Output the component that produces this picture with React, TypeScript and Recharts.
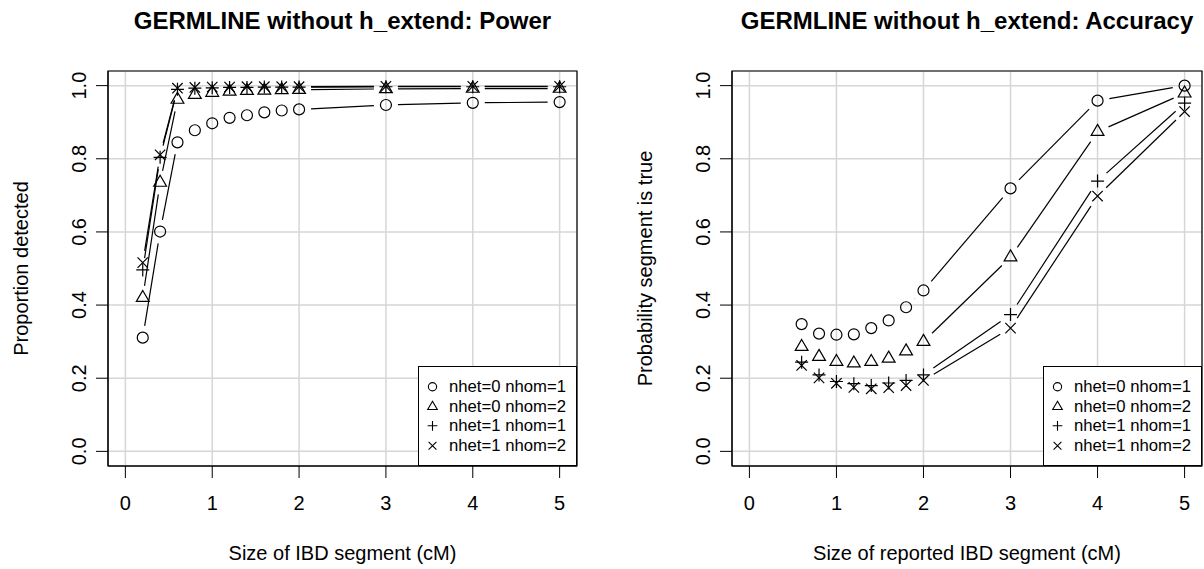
import {
  CartesianGrid,
  Legend,
  Line,
  LineChart,
  ReferenceArea,
  XAxis,
  YAxis,
} from "recharts";

// sizes of IBD segment (cM)
const powerSizes = [0.2, 0.4, 0.6, 0.8, 1, 1.2, 1.4, 1.6, 1.8, 2, 3, 4, 5];
const powerHet0Hom1 = [0.311, 0.601, 0.845, 0.878, 0.897, 0.912, 0.919, 0.927, 0.932, 0.935, 0.947, 0.953, 0.955];
const powerHet0Hom2 = [0.42, 0.735, 0.962, 0.975, 0.981, 0.984, 0.986, 0.987, 0.988, 0.989, 0.991, 0.992, 0.992];
const powerHet1Hom1 = [0.496, 0.804, 0.99, 0.993, 0.994, 0.995, 0.995, 0.996, 0.996, 0.996, 0.997, 0.997, 0.997];
const powerHet1Hom2 = [0.516, 0.811, 0.993, 0.995, 0.996, 0.996, 0.997, 0.997, 0.997, 0.997, 0.998, 0.998, 0.998];

// sizes of reported IBD segment (cM)
const accuracySizes = [0.6, 0.8, 1, 1.2, 1.4, 1.6, 1.8, 2, 3, 4, 5];
const accHet0Hom1 = [0.348, 0.322, 0.319, 0.32, 0.337, 0.358, 0.394, 0.44, 0.719, 0.959, 1.0];
const accHet0Hom2 = [0.286, 0.259, 0.245, 0.241, 0.245, 0.254, 0.274, 0.3, 0.531, 0.874, 0.979];
const accHet1Hom1 = [0.244, 0.209, 0.191, 0.185, 0.18, 0.187, 0.194, 0.209, 0.374, 0.739, 0.952];
const accHet1Hom2 = [0.235, 0.201, 0.186, 0.175, 0.171, 0.174, 0.18, 0.194, 0.337, 0.698, 0.929];

const seriesLabels = ["nhet=0 nhom=1", "nhet=0 nhom=2", "nhet=1 nhom=1", "nhet=1 nhom=2"];
const seriesSymbols = ["circle", "triangle", "plus", "cross"];
const seriesKeys = ["s0", "s1", "s2", "s3"];

const xTicks = [0, 1, 2, 3, 4, 5];
const yTicks = [0, 0.2, 0.4, 0.6, 0.8, 1];

const FONT = '"Liberation Sans", Arial, Helvetica, sans-serif';
const GAP = 12;

function buildRows(sizes: number[], series: number[][]) {
  return sizes.map((size, i) => {
    const row: Record<string, number> = { size };
    series.forEach((vals, k) => {
      row[seriesKeys[k]] = vals[i];
    });
    return row;
  });
}

const powerRows = buildRows(powerSizes, [powerHet0Hom1, powerHet0Hom2, powerHet1Hom1, powerHet1Hom2]);
const accuracyRows = buildRows(accuracySizes, [accHet0Hom1, accHet0Hom2, accHet1Hom1, accHet1Hom2]);

function marker(kind: string, cx: number, cy: number, s: number, sw: number) {
  const common = { stroke: "#000", strokeWidth: sw, fill: "none" };
  if (kind === "circle") return <circle cx={cx} cy={cy} r={5.5 * s} {...common} />;
  if (kind === "triangle") {
    const pts = `${cx},${cy - 7.3 * s} ${cx + 6.4 * s},${cy + 3.7 * s} ${cx - 6.4 * s},${cy + 3.7 * s}`;
    return <polygon points={pts} {...common} />;
  }
  if (kind === "plus") {
    const a = 6.5 * s;
    return <path d={`M${cx - a},${cy}H${cx + a}M${cx},${cy - a}V${cy + a}`} {...common} />;
  }
  const b = 5.2 * s;
  return <path d={`M${cx - b},${cy - b}L${cx + b},${cy + b}M${cx - b},${cy + b}L${cx + b},${cy - b}`} {...common} />;
}

// type="b" style: point symbol plus a segment to the next point, with gaps
function makeDot(kind: string) {
  return (props: any) => {
    const { cx, cy, index, points } = props;
    const next = points && points[index + 1];
    let seg = null;
    if (next) {
      const dx = next.x - cx;
      const dy = next.y - cy;
      const len = Math.hypot(dx, dy);
      if (len > 2 * GAP) {
        const ux = dx / len;
        const uy = dy / len;
        seg = (
          <line
            x1={cx + ux * GAP}
            y1={cy + uy * GAP}
            x2={next.x - ux * GAP}
            y2={next.y - uy * GAP}
            stroke="#000"
            strokeWidth={1.2}
          />
        );
      }
    }
    return (
      <g key={`dot-${kind}-${index}`}>
        {seg}
        {marker(kind, cx, cy, 1, 1.2)}
      </g>
    );
  };
}

function XTick({ x, y, payload }: any) {
  return (
    <text x={x} y={y} dy="0.71em" textAnchor="middle" fontSize={20} fontFamily={FONT} fill="#000">
      {payload.value}
    </text>
  );
}

function YTick({ x, y, payload }: any) {
  return (
    <text
      x={x}
      y={y}
      transform={`rotate(-90 ${x} ${y})`}
      textAnchor="middle"
      fontSize={20}
      fontFamily={FONT}
      fill="#000"
    >
      {Number(payload.value).toFixed(1)}
    </text>
  );
}

function LegendBox() {
  return (
    <div
      style={{
        width: 159,
        height: 100,
        boxSizing: "border-box",
        border: "1.2px solid #000",
        background: "#fff",
        paddingTop: 10,
        fontFamily: FONT,
        fontSize: 16.7,
        color: "#000",
      }}
    >
      {seriesLabels.map((label, i) => (
        <div key={label} style={{ display: "flex", alignItems: "center", height: 19.5 }}>
          <svg width={30} height={19.5} style={{ flex: "none" }}>
            {marker(seriesSymbols[i], 13.5, 9.75, 0.75, 1.1)}
          </svg>
          <span style={{ lineHeight: "19.5px", whiteSpace: "nowrap" }}>{label}</span>
        </div>
      ))}
    </div>
  );
}

type PanelProps = {
  left: number;
  rows: Record<string, number>[];
  title: string;
  xLabel: string;
  yLabel: string;
  yAxisWidth: number;
  marginRight: number;
  legendLeft: number;
};

function Panel({ left, rows, title, xLabel, yLabel, yAxisWidth, marginRight, legendLeft }: PanelProps) {
  const W = 602;
  const H = 569;
  const plotCenter = (yAxisWidth + (W - marginRight)) / 2;
  return (
    <div style={{ position: "absolute", left, top: 0, width: W, height: H }}>
      <LineChart width={W} height={H} data={rows} margin={{ top: 71, right: marginRight, bottom: 0, left: 0 }}>
        <CartesianGrid stroke="#d6d6d6" strokeWidth={1.5} />
        <XAxis
          dataKey="size"
          type="number"
          domain={[-0.2, 5.2]}
          ticks={xTicks}
          allowDataOverflow
          height={103}
          tickSize={12}
          tickMargin={18}
          stroke="#000"
          tick={<XTick />}
        />
        <YAxis
          type="number"
          domain={[-0.04, 1.04]}
          ticks={yTicks}
          allowDataOverflow
          width={yAxisWidth}
          tickSize={12}
          tickMargin={10}
          stroke="#000"
          tick={<YTick />}
        />
        {seriesKeys.map((key, i) => (
          <Line
            key={key}
            dataKey={key}
            name={seriesLabels[i]}
            stroke="none"
            dot={makeDot(seriesSymbols[i])}
            activeDot={false}
            isAnimationActive={false}
          />
        ))}
        <ReferenceArea x1={-0.2} x2={5.2} y1={-0.04} y2={1.04} fill="none" stroke="#000" strokeWidth={1.2} />
        <Legend
          layout="horizontal"
          verticalAlign="middle"
          align="center"
          content={() => <LegendBox />}
          wrapperStyle={{ left: legendLeft, top: 366, width: 159, height: 100 }}
        />
      </LineChart>
      <svg
        width={W}
        height={H}
        style={{ position: "absolute", left: 0, top: 0, pointerEvents: "none" }}
        fontFamily={FONT}
      >
        <text x={plotCenter} y={29} textAnchor="middle" fontSize={24} fontWeight="bold" fill="#000">
          {title}
        </text>
        <text x={plotCenter} y={560} textAnchor="middle" fontSize={20} fill="#000">
          {xLabel}
        </text>
        <text
          x={yAxisWidth - 80}
          y={268.5}
          transform={`rotate(-90 ${yAxisWidth - 80} 268.5)`}
          textAnchor="middle"
          fontSize={20}
          fill="#000"
        >
          {yLabel}
        </text>
      </svg>
    </div>
  );
}

export default function App() {
  return (
    <div
      style={{
        position: "absolute",
        left: 0,
        top: 0,
        width: 1204,
        height: 569,
        background: "#fff",
        fontFamily: FONT,
      }}
    >
      <Panel
        left={0}
        rows={powerRows}
        title="GERMLINE without h_extend: Power"
        xLabel="Size of IBD segment (cM)"
        yLabel="Proportion detected"
        yAxisWidth={108}
        marginRight={25}
        legendLeft={418}
      />
      <Panel
        left={602}
        rows={accuracyRows}
        title="GERMLINE without h_extend: Accuracy"
        xLabel="Size of reported IBD segment (cM)"
        yLabel="Probability segment is true"
        yAxisWidth={130}
        marginRight={2}
        legendLeft={441}
      />
    </div>
  );
}
